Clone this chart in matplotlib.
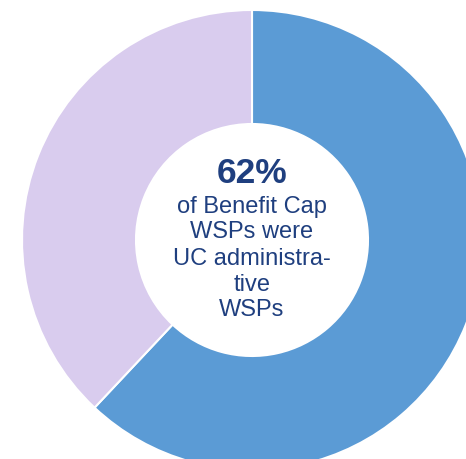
import matplotlib.pyplot as plt

# share of Benefit Cap WSPs
labels = ['UC administrative WSPs', 'Other WSPs']
values = [62, 38]
colours = ['#5b9bd5', '#d9ccee']

headline = '62%'
caption = ['of Benefit Cap', 'WSPs were', 'UC administra-', 'tive', 'WSPs']


def main():
    plt.rcParams['font.family'] = ['Liberation Sans', 'DejaVu Sans']
    fig = plt.figure(figsize=(4.66, 4.59), dpi=100)
    ax = fig.add_axes([0, 0, 1, 1])

    cx, cy = 252, 459 - 240
    ax.pie(values, colors=colours, startangle=90, counterclock=False,
           center=(cx, cy), radius=230, frame=True,
           wedgeprops=dict(width=114, edgecolor='white', linewidth=1.5))
    ax.set_xlim(0, 466)
    ax.set_ylim(0, 459)
    ax.axis('off')

    txt = '#1f3f7f'
    ax.text(cx, 459 - 183, headline, ha='center', va='baseline',
            fontsize=25.5, fontweight='bold', color=txt)
    baselines = [213, 238, 265, 291, 316]
    for line, b in zip(caption, baselines):
        ax.text(cx, 459 - b, line, ha='center', va='baseline',
                fontsize=17, color=txt)

    plt.savefig('out.png', dpi=100)


if __name__ == '__main__':
    main()
